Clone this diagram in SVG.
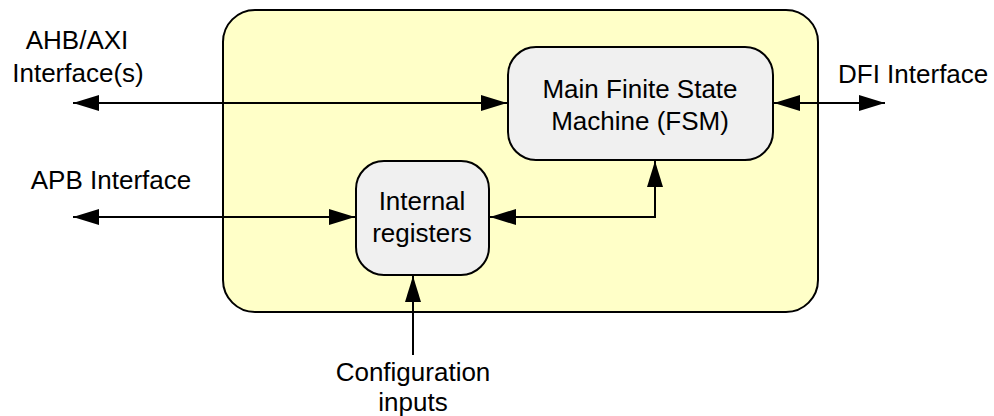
<svg xmlns="http://www.w3.org/2000/svg" width="994" height="416" viewBox="0 0 994 416">
  <style>
    .lbl { font-family: "Liberation Sans", Arial, sans-serif; font-size: 26px; fill: #000; }
    .mid { text-anchor: middle; }
    .node { fill: #F0F0F0; stroke: #000; stroke-width: 2; }
    .wire { fill: none; stroke: #000; stroke-width: 2; }
  </style>
  <defs>
    <marker id="arrow" viewBox="0 0 26 16" refX="26" refY="8" markerWidth="26" markerHeight="16" markerUnits="userSpaceOnUse" orient="auto-start-reverse">
      <path d="M0,0 L26,8 L0,16 Z" fill="#000"/>
    </marker>
  </defs>

  <!-- controller enclosure -->
  <g id="controller">
    <rect x="223" y="10" width="595" height="302" rx="32" ry="32" fill="#FFFFC8" stroke="#000" stroke-width="2"/>
  </g>

  <!-- connectors -->
  <g id="connectors">
    <line class="wire" x1="73" y1="103" x2="507" y2="103" marker-start="url(#arrow)" marker-end="url(#arrow)"/>
    <line class="wire" x1="73" y1="217" x2="355" y2="217" marker-start="url(#arrow)" marker-end="url(#arrow)"/>
    <polyline class="wire" points="490,217 655,217 655,161" marker-start="url(#arrow)" marker-end="url(#arrow)"/>
    <line class="wire" x1="774" y1="103" x2="885" y2="103" marker-start="url(#arrow)" marker-end="url(#arrow)"/>
    <line class="wire" x1="413" y1="355" x2="413" y2="276" marker-end="url(#arrow)"/>
  </g>

  <g id="fsm">
    <rect class="node" x="508" y="47" width="265" height="113" rx="28" ry="28"/>
    <text class="lbl mid" x="640" y="98">Main Finite State</text>
    <text class="lbl mid" x="640" y="130">Machine (FSM)</text>
  </g>

  <g id="registers">
    <rect class="node" x="356" y="161" width="133" height="114" rx="28" ry="28"/>
    <text class="lbl mid" x="422" y="210">Internal</text>
    <text class="lbl mid" x="422" y="242">registers</text>
  </g>

  <g id="ahb-axi">
    <text class="lbl mid" x="77" y="49">AHB/AXI</text>
    <text class="lbl mid" x="78" y="82">Interface(s)</text>
  </g>

  <g id="apb">
    <text class="lbl mid" x="111" y="189">APB Interface</text>
  </g>

  <g id="dfi">
    <text class="lbl" x="838" y="83">DFI Interface</text>
  </g>

  <g id="config">
    <text class="lbl mid" x="413" y="381">Configuration</text>
    <text class="lbl mid" x="413" y="411">inputs</text>
  </g>
</svg>
